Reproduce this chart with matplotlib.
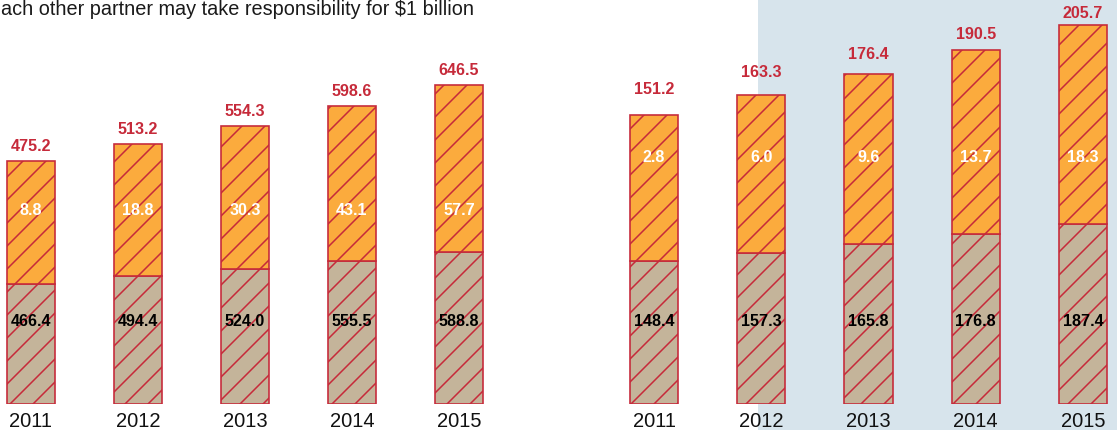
import matplotlib
matplotlib.use("Agg")
import matplotlib.pyplot as plt
from matplotlib.patches import Rectangle
from matplotlib.transforms import blended_transform_factory

plt.rcParams['font.family'] = ['Liberation Sans', 'DejaVu Sans']
plt.rcParams['hatch.linewidth'] = 0.8

years = ['2011', '2012', '2013', '2014', '2015']

# left group
left_base = [466.4, 494.4, 524.0, 555.5, 588.8]
left_total = [475.2, 513.2, 554.3, 598.6, 646.5]
left_extra = [8.8, 18.8, 30.3, 43.1, 57.7]

# right group
right_base = [148.4, 157.3, 165.8, 176.8, 187.4]
right_total = [151.2, 163.3, 176.4, 190.5, 205.7]
right_extra = [2.8, 6.0, 9.6, 13.7, 18.3]

orange = '#fbab3d'
tan = '#c4b49a'
red = '#c62a3a'
shade = '#d7e4ec'

dpi = 138
W, H = 1117, 430
fig = plt.figure(figsize=(W / dpi, H / dpi), dpi=dpi)

# light blue panel behind the right part
fig.patches.append(Rectangle((758 / W, 0), 1 - 758 / W, 1, transform=fig.transFigure,
                             facecolor=shade, edgecolor='none', zorder=-5))

fig.text(1 / W, 1 - 15 / H, 'ach other partner may take responsibility for $1 billion',
         fontsize=10.4, color='#1a1a1a', va='baseline', ha='left')


def draw_group(ax, base, total, extra, ymax, xlim, inner_y, offsets):
    x = range(len(years))
    ax.bar(x, base, width=0.45, color=tan, edgecolor=red, hatch='//', linewidth=0.85, zorder=2)
    ax.bar(x, total, width=0.45, bottom=base, color=orange, edgecolor=red, hatch='//',
           linewidth=0.85, zorder=2)
    ax.set_xlim(*xlim)
    ax.set_ylim(0, ymax)
    ax.patch.set_visible(False)
    for s in ax.spines.values():
        s.set_visible(False)
    ax.set_yticks([])
    ax.set_xticks(list(x))
    ax.set_xticklabels(years, fontsize=10.5, color='#111111')
    ax.tick_params(axis='x', length=0, pad=4.0)
    tr = blended_transform_factory(ax.transData, ax.transAxes)
    for i in x:
        ax.annotate(f'{total[i]:.1f}', (i, base[i] + total[i]), xytext=(0, offsets[i]),
                    textcoords='offset points', ha='center', va='center',
                    fontsize=8.4, fontweight='bold', color=red, annotation_clip=False)
        ax.text(i, inner_y, f'{extra[i]:.1f}', transform=tr, ha='center', va='center',
                fontsize=8.4, fontweight='bold', color='white', zorder=3)
        ax.text(i, 0.203, f'{base[i]:.1f}', transform=tr, ha='center', va='center',
                fontsize=8.4, fontweight='bold', color='black', zorder=3)


bottom = 1 - 404 / H
pt = 72 / dpi  # points per pixel

ax1 = fig.add_axes([0, bottom, 540 / W, 404 / H])
draw_group(ax1, left_base, left_total, left_extra, 404 / 0.258,
           (-31 / 107, 509 / 107), 0.480, [14.5 * pt] * 5)

ax2 = fig.add_axes([600 / W, bottom, 517 / W, 404 / H])
right_off = [(26 - 0.257 * (t - right_total[0])) * pt for t in right_total]
draw_group(ax2, right_base, right_total, right_extra, 404 / 0.963,
           (-54 / 107.25, 463 / 107.25), 0.609, right_off)

fig.savefig('out.png', dpi=dpi)
